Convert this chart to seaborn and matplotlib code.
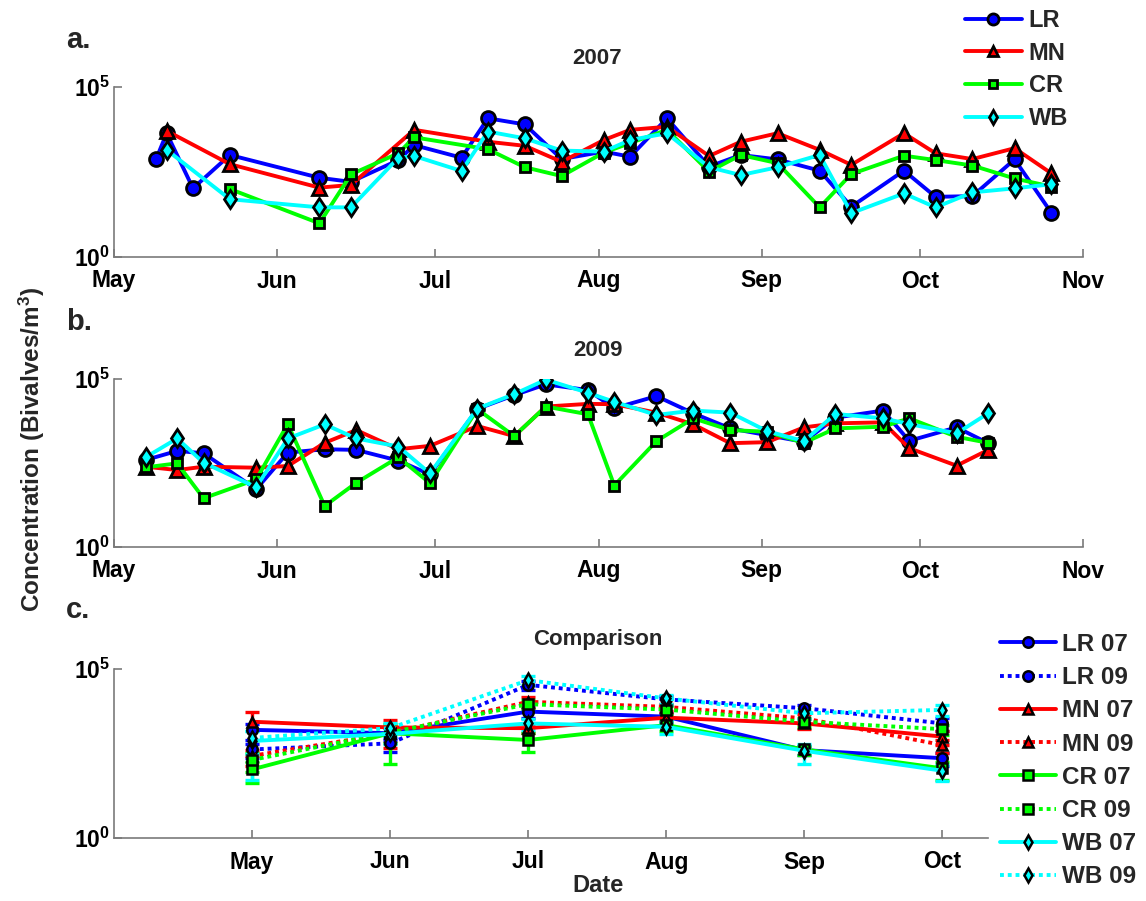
import numpy as np
import pandas as pd
import matplotlib
matplotlib.use("Agg")
import matplotlib.pyplot as plt
import seaborn as sns

# ---------------- data ----------------
sites = ["LR", "MN", "CR", "WB"]
site_colors = {"LR": "#0000ff", "MN": "#ff0000", "CR": "#00ff00", "WB": "#00ffff"}
site_markers = {"LR": "o", "MN": "^", "CR": "s", "WB": "d"}
site_msize = {"LR": 10, "MN": 9.5, "CR": 7.5, "WB": 9.5}

nan = np.nan

# 2007 sampling dates and log10 concentrations (bivalves / m^3)
dates_2007 = ["2007-05-09", "2007-05-11", "2007-05-16", "2007-05-23", "2007-06-09",
              "2007-06-15", "2007-06-24", "2007-06-27", "2007-07-06", "2007-07-11",
              "2007-07-18", "2007-07-25", "2007-08-02", "2007-08-07", "2007-08-14",
              "2007-08-22", "2007-08-28", "2007-09-04", "2007-09-12", "2007-09-18",
              "2007-09-28", "2007-10-04", "2007-10-11", "2007-10-19", "2007-10-26"]
lr_2007 = [2.88, 3.64, 2.02, 3.00, 2.33, 2.21, 2.85, 3.29, 2.92, 4.08, 3.90, 2.88, 3.10,
           2.95, 4.08, 2.66, 3.00, 2.87, 2.54, 1.48, 2.54, 1.77, 1.79, 2.87, 1.30]
mn_2007 = [nan, 3.71, nan, 2.73, 2.04, 2.12, nan, 3.74, nan, 3.39, 3.27, 2.80, 3.44,
           3.74, 3.83, 2.97, 3.39, 3.64, 3.15, 2.71, 3.64, 3.05, 2.88, 3.20, 2.46]
cr_2007 = [nan, nan, nan, 2.00, 0.99, 2.43, 3.05, 3.52, nan, 3.17, 2.64, 2.38, 3.07,
           3.35, 3.74, 2.51, 3.00, 2.76, 1.46, 2.44, 2.98, 2.85, 2.69, 2.31, 2.07]
wb_2007 = [nan, 3.15, nan, 1.70, 1.46, 1.46, 2.92, 2.97, 2.53, 3.69, 3.49, 3.13, 3.10,
           3.44, 3.64, 2.64, 2.41, 2.64, 3.00, 1.29, 1.87, 1.46, 1.90, 2.02, 2.14]

# 2009 sampling dates and log10 concentrations
dates_2009 = ["2009-05-07", "2009-05-13", "2009-05-18", "2009-05-28", "2009-06-03",
              "2009-06-10", "2009-06-16", "2009-06-24", "2009-06-30", "2009-07-09",
              "2009-07-16", "2009-07-22", "2009-07-30", "2009-08-04", "2009-08-12",
              "2009-08-19", "2009-08-26", "2009-09-02", "2009-09-09", "2009-09-15",
              "2009-09-24", "2009-09-29", "2009-10-08", "2009-10-14"]
lr_2009 = [2.59, 2.86, 2.79, 1.72, 2.81, 2.91, 2.89, 2.57, 2.16, 4.11, 4.52, 4.84,
           4.67, 4.13, 4.49, 3.98, 3.53, 3.33, 3.13, 3.85, 4.06, 3.16, 3.56, 3.09]
mn_2009 = [2.39, 2.29, 2.39, 2.36, 2.41, 3.10, 3.48, 2.91, 3.01, 3.60, 3.30, 4.18,
           4.26, 4.25, 4.00, 3.65, 3.09, 3.12, 3.56, 3.68, 3.71, 2.94, 2.42, 2.89]
cr_2009 = [2.37, 2.49, 1.45, 2.01, 3.66, 1.22, 1.91, 2.67, 1.90, 4.10, 3.30, 4.18,
           3.95, 1.83, 3.15, 3.83, 3.48, 3.43, 3.10, 3.53, 3.58, 3.83, 3.28, 3.10]
wb_2009 = [2.67, 3.23, 2.51, 1.78, 3.23, 3.65, 3.23, 2.99, 2.19, 4.12, 4.55, 4.98,
           4.59, 4.32, 3.93, 4.06, 4.00, 3.45, 3.15, 3.96, 3.83, 3.66, 3.38, 3.98]

# monthly comparison: log10 of monthly mean, and standard deviation relative to the mean
months = ["May", "Jun", "Jul", "Aug", "Sep", "Oct"]
lr07_mean = [3.20, 3.10, 3.74, 3.59, 2.60, 2.36]
lr09_mean = [2.62, 2.80, 4.53, 4.10, 3.84, 3.39]
mn07_mean = [3.44, 3.27, 3.25, 3.56, 3.39, 3.00]
mn09_mean = [2.43, 3.10, 4.03, 3.88, 3.54, 2.75]
cr07_mean = [2.03, 3.10, 2.90, 3.34, 2.62, 2.06]
cr09_mean = [2.31, 3.12, 3.96, 3.80, 3.44, 3.22]
wb07_mean = [2.87, 3.08, 3.39, 3.29, 2.58, 1.99]
wb09_mean = [2.96, 3.25, 4.67, 4.13, 3.69, 3.79]

lr07_rsd = [0.50, 0.40, 0.35, 0.30, 0.30, 0.40]
lr09_rsd = [0.45, 0.44, 0.30, 0.30, 0.23, 0.40]
mn07_rsd = [0.90, 0.66, 0.30, 0.30, 0.32, 0.45]
mn09_rsd = [0.50, 0.64, 0.35, 0.25, 0.30, 0.40]
cr07_rsd = [0.60, 0.88, 0.56, 0.35, 0.30, 0.56]
cr09_rsd = [0.55, 0.50, 0.30, 0.30, 0.30, 0.35]
wb07_rsd = [0.93, 0.50, 0.35, 0.40, 0.59, 0.50]
wb09_rsd = [0.66, 0.40, 0.30, 0.30, 0.30, 0.35]

# ---------------- tables ----------------
def long_table(dates, series):
    frames = []
    for site, vals in series.items():
        frames.append(pd.DataFrame({"date": pd.to_datetime(dates),
                                    "conc": 10.0 ** np.asarray(vals, float),
                                    "site": site}))
    return pd.concat(frames, ignore_index=True).dropna()

df07 = long_table(dates_2007, {"LR": lr_2007, "MN": mn_2007, "CR": cr_2007, "WB": wb_2007})
df09 = long_table(dates_2009, {"LR": lr_2009, "MN": mn_2009, "CR": cr_2009, "WB": wb_2009})

comp_rows = []
for site, m07, s07, m09, s09 in [("LR", lr07_mean, lr07_rsd, lr09_mean, lr09_rsd),
                                 ("MN", mn07_mean, mn07_rsd, mn09_mean, mn09_rsd),
                                 ("CR", cr07_mean, cr07_rsd, cr09_mean, cr09_rsd),
                                 ("WB", wb07_mean, wb07_rsd, wb09_mean, wb09_rsd)]:
    for yr, m, s in (("07", m07, s07), ("09", m09, s09)):
        for i, mon in enumerate(months):
            c = 10.0 ** m[i]
            comp_rows.append({"site": site, "year": yr, "pos": i + 1,
                              "conc": c, "sd": c * s[i]})
comp = pd.DataFrame(comp_rows)

# ---------------- style ----------------
sns.set_theme(style="ticks")
plt.rcParams["font.family"] = ["Liberation Sans", "DejaVu Sans"]
plt.rcParams["font.weight"] = "bold"
plt.rcParams["mathtext.fontset"] = "custom"
plt.rcParams["mathtext.rm"] = "Liberation Sans"
plt.rcParams["mathtext.bf"] = "Liberation Sans:bold"
plt.rcParams["mathtext.default"] = "bf"

W, H = 1146, 901
fig = plt.figure(figsize=(W / 100, H / 100), dpi=100)

def px_axes(left, top, right, bottom):
    return fig.add_axes([left / W, 1 - bottom / H, (right - left) / W, (bottom - top) / H])

ax_a = px_axes(114, 87, 1083, 257)
ax_b = px_axes(114, 379, 1083, 547)
ax_c = px_axes(114, 669, 988, 838)

spine_gray = "#7a7a7a"
tick_fs = 16.5

def style_axes(ax):
    ax.set_yscale("log")
    ax.set_ylim(1, 1e5)
    ax.set_yticks([1, 1e5])
    ax.set_yticklabels([r"$10^{0}$", r"$10^{5}$"])
    ax.yaxis.set_minor_locator(matplotlib.ticker.NullLocator())
    for side in ("top", "right"):
        ax.spines[side].set_visible(False)
    for side in ("left", "bottom"):
        ax.spines[side].set_color(spine_gray)
        ax.spines[side].set_linewidth(1.2)
    ax.tick_params(axis="both", which="major", direction="in", length=6, width=1.2,
                   color=spine_gray, labelsize=tick_fs, labelcolor="black")
    ax.tick_params(axis="x", pad=9)
    ax.tick_params(axis="y", pad=3)
    ax.set_xlabel("")
    ax.set_ylabel("")
    ax.grid(False)
    for lab in ax.get_xticklabels() + ax.get_yticklabels():
        lab.set_fontweight("bold")
    # the decade labels sit a little above their tick, leaving room for the month names
    for lab in ax.get_yticklabels():
        lab.set_verticalalignment("center_baseline")

def draw_year(ax, df, year):
    for site in sites:
        sub = df[df["site"] == site]
        sns.lineplot(data=sub, x="date", y="conc", ax=ax, color=site_colors[site],
                     linewidth=2.8, marker=site_markers[site], markersize=site_msize[site],
                     markeredgecolor="black", markeredgewidth=2.0,
                     markerfacecolor=site_colors[site], errorbar=None, sort=True,
                     legend=False, label=site)
    month_starts = pd.date_range(f"{year}-05-01", f"{year}-11-01", freq="MS")
    ax.set_xlim(month_starts[0], month_starts[-1])
    style_axes(ax)
    ax.set_xticks(month_starts)
    ax.set_xticklabels([d.strftime("%b") for d in month_starts], fontweight="bold")

draw_year(ax_a, df07, 2007)
draw_year(ax_b, df09, 2009)

# comparison panel: monthly means with standard deviation bars
for site in sites:
    for yr, dash in (("07", "-"), ("09", (0, (1.0, 1.0)))):
        sub = comp[(comp["site"] == site) & (comp["year"] == yr)]
        ax_c.errorbar(sub["pos"], sub["conc"], yerr=sub["sd"], fmt="none",
                      ecolor=site_colors[site], elinewidth=2.4, capsize=5, capthick=2.4,
                      zorder=2)
        sns.lineplot(data=sub, x="pos", y="conc", ax=ax_c, color=site_colors[site],
                     linewidth=2.8, linestyle=dash, marker=site_markers[site],
                     markersize=7.5, markeredgecolor="black", markeredgewidth=1.8,
                     markerfacecolor=site_colors[site], errorbar=None, legend=False,
                     label=f"{site} {yr}", zorder=3)
style_axes(ax_c)
ax_c.set_xlim(0, 6.33)
ax_c.set_xticks(range(1, 7))
ax_c.set_xticklabels(months, fontweight="bold")

# ---------------- text ----------------
cx = 597.5
title_fs = 16
fig.text(cx / W, 1 - 59 / H, "2007", ha="center", va="center", fontsize=title_fs,
         fontweight="bold")
fig.text(cx / W, 1 - 351 / H, "2009", ha="center", va="center", fontsize=title_fs,
         fontweight="bold")
fig.text(cx / W, 1 - 640 / H, "Comparison", ha="center", va="center", fontsize=title_fs,
         fontweight="bold")
fig.text(cx / W, 1 - 885 / H, "Date", ha="center", va="center", fontsize=17,
         fontweight="bold")
for lab, y in (("a.", 40), ("b.", 322), ("c.", 610)):
    fig.text(66 / W, 1 - y / H, lab, ha="left", va="center", fontsize=21, fontweight="bold")
fig.text(32 / W, 1 - 449 / H, r"Concentration (Bivalves/m$^{3}$)", rotation=90,
         ha="center", va="center", fontsize=17.5, fontweight="bold")

# ---------------- legends ----------------
h_a, l_a = ax_a.get_legend_handles_labels()
fig.legend(h_a, l_a, loc="upper left", bbox_to_anchor=(965 / W, 1 - 9 / H),
           frameon=False, handlelength=2.4, handletextpad=0.3,
           labelspacing=0.41, borderpad=0, borderaxespad=0, markerscale=0.8,
           prop={"weight": "bold", "size": 17})

h_c, l_c = ax_c.get_legend_handles_labels()
fig.legend(h_c, l_c, loc="upper left", bbox_to_anchor=(1000 / W, 1 - 633 / H),
           frameon=False, handlelength=2.3, handletextpad=0.25,
           labelspacing=0.42, borderpad=0, borderaxespad=0, markerscale=1.0,
           prop={"weight": "bold", "size": 17.5})

fig.savefig("out.png", dpi=100, facecolor="white")
